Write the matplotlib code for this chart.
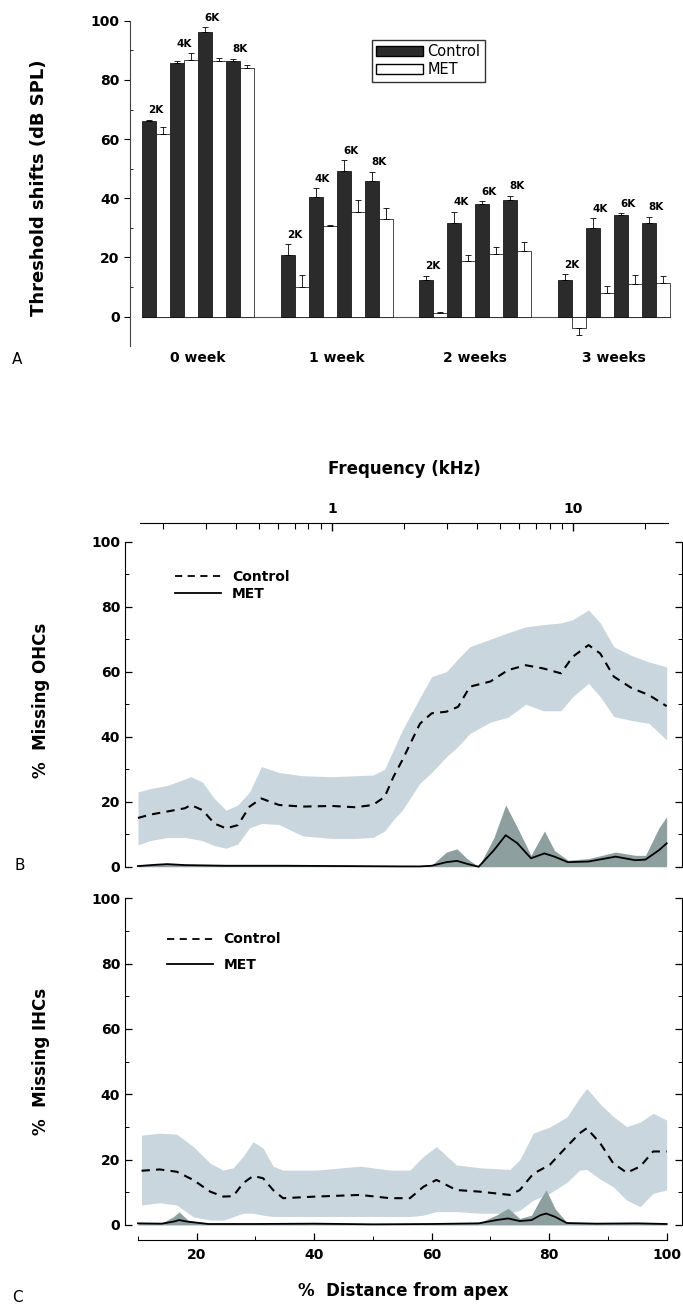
import matplotlib

matplotlib.use("Agg")
import matplotlib.pyplot as plt
from matplotlib.lines import Line2D
from matplotlib.patches import Patch
from matplotlib.ticker import MultipleLocator, NullFormatter, FixedLocator

# ---- panel A: threshold shifts (dB SPL) ----
WEEKS = ["0 week", "1 week", "2 weeks", "3 weeks"]
FREQS = ["2K", "4K", "6K", "8K"]
CONTROL = [[66.0, 85.6, 96.3, 86.4],
           [20.7, 40.5, 49.3, 45.8],
           [12.4, 31.8, 38.1, 39.3],
           [12.4, 29.9, 34.4, 31.5]]
CONTROL_ERR = [[0.5, 0.8, 1.5, 0.8],
               [3.8, 2.9, 3.5, 3.2],
               [1.5, 3.7, 1.0, 1.5],
               [2.0, 3.3, 0.5, 2.3]]
MET = [[61.6, 86.7, 86.5, 84.0],
       [10.1, 30.6, 35.5, 32.9],
       [1.1, 18.9, 21.2, 22.3],
       [-3.9, 7.9, 10.9, 11.3]]
MET_ERR = [[2.5, 2.3, 0.8, 1.2],
           [3.9, 0.5, 3.9, 3.7],
           [0.5, 1.9, 2.4, 3.0],
           [2.3, 2.5, 3.1, 2.4]]

# ---- panel B: % missing OHCs vs % distance from apex ----
OHC_CTRL_X = [10, 12, 15, 18, 19, 21, 23, 25, 27, 29, 31, 34, 38, 43, 47, 50,
              52, 53.5, 55, 58, 60, 62.5, 64.5, 66.5, 70, 73, 76, 79, 82, 84,
              86.7, 88.7, 91, 94, 97, 100]
OHC_CTRL = [15, 16, 17, 18, 19, 17.4, 13.3, 11.8, 12.8, 18.5, 21, 19, 18.5,
            18.7, 18.3, 19, 21.5, 27.7, 32.8, 44, 47.2, 47.7, 49.2, 55.4, 57,
            60.5, 62, 61, 59.5, 64.6, 68.2, 65.6, 58.5, 55, 52.8, 49.4]
OHC_CTRL_HI = [23, 24, 25, 27, 27.7, 26, 21, 17.4, 19, 23, 30.8, 29, 28, 27.7,
               28, 28.2, 30, 36, 42, 52, 58.5, 60, 64, 67.7, 70, 72, 73.8,
               74.5, 75, 76, 79, 75, 67.7, 65, 63, 61.5]
OHC_CTRL_LO = [6.7, 8, 9, 9, 8.7, 8, 6.5, 5.7, 7, 12, 13.3, 13, 9.5, 8.7, 8.7,
               9, 11, 14.5, 17.4, 25.7, 29, 33.8, 37, 41, 44.5, 46, 50, 48, 48,
               52.3, 56.4, 52.3, 46.2, 45, 44.1, 39]
OHC_MET_X = [10, 13, 15, 18, 25, 35, 45, 55, 58, 60, 62.5, 64.3, 66, 68, 70.6,
             72.6, 74.6, 76.9, 79.2, 80.9, 83.2, 86.7, 91.3, 94.7, 96.4, 98.7,
             100]
OHC_MET = [0.2, 0.6, 0.8, 0.5, 0.3, 0.3, 0.2, 0.1, 0.1, 0.3, 1.4, 1.8, 0.9,
           0.0, 5.1, 9.7, 7.2, 2.6, 4.1, 3.1, 1.4, 1.6, 3.1, 2.0, 2.2, 5.1, 7.2]
OHC_MET_HI = [0.3, 0.8, 1.0, 0.6, 0.4, 0.4, 0.3, 0.2, 0.2, 0.5, 4.5, 5.5, 2.5,
              0.0, 9, 19, 12, 3.5, 11, 5, 2.0, 2.5, 4.5, 3.5, 3.5, 12, 15.4]

# ---- panel C: % missing IHCs ----
IHC_CTRL_X = [10.6, 13.7, 16.6, 19.4, 22.3, 24.5, 26.2, 27.9, 29.6, 31.3, 33,
              34.7, 40.4, 47.8, 52.9, 56.3, 58.6, 60.8, 64.2, 68.2, 73.3, 75,
              77.3, 80.1, 83, 85.2, 86.4, 88.7, 90.9, 93.2, 95.5, 97.7, 100]
IHC_CTRL = [16.6, 17.0, 16.3, 13.8, 10.2, 8.7, 8.8, 12.8, 15.0, 14.3, 10.7,
            8.2, 8.7, 9.2, 8.2, 8.2, 11.7, 13.8, 10.7, 10.2, 9.2, 10.7, 15.7,
            18.4, 24, 28.1, 29.6, 25, 18.9, 16.0, 17.9, 22.5, 22.5]
IHC_CTRL_HI = [27.5, 28.1, 27.8, 24, 18.9, 16.8, 17.5, 21, 25.5, 23.5, 18,
               16.8, 16.8, 18, 16.8, 16.8, 21, 24, 18.4, 17.5, 17, 20, 28.1,
               30, 33, 39, 41.8, 37, 33.2, 30.1, 31.5, 34.2, 32.1]
IHC_CTRL_LO = [6.1, 6.8, 6.1, 2.5, 1.5, 1.5, 2.5, 3.6, 3.6, 3.0, 2.6, 2.6, 2.6,
               2.6, 2.6, 2.6, 3.0, 4.1, 4.1, 3.6, 3.6, 4.5, 7.6, 9.7, 13,
               16.8, 17, 14, 11.7, 7.6, 5.6, 9.7, 10.7]
IHC_MET_X = [10, 14, 16, 17, 18.5, 22, 30, 40, 50, 60, 68, 71, 73, 75, 77,
             78.5, 79.5, 81, 83, 88, 95, 100]
IHC_MET = [0.5, 0.4, 1.0, 1.5, 1.0, 0.3, 0.3, 0.4, 0.2, 0.3, 0.5, 1.5, 2.0,
           1.2, 1.5, 3.0, 3.5, 2.5, 0.6, 0.4, 0.5, 0.3]
IHC_MET_HI = [0.6, 0.5, 2.5, 4.0, 1.5, 0.4, 0.4, 0.5, 0.3, 0.4, 0.6, 3.0, 5.1,
              2.0, 3.0, 8.0, 10.7, 5.0, 0.8, 0.5, 0.6, 0.4]

BAR_DARK = "#2b2b2b"
BAND_LIGHT = "#cad6de"
BAND_DARK = "#8e9fa0"
GROUP_STEP = 9.9

W, H = 683, 1312
fig = plt.figure(figsize=(W / 100, H / 100), dpi=100)
plt.rcParams["font.family"] = "DejaVu Sans"


def fig_box(left_px, right_px, top_px, bottom_px):
    return [left_px / W, 1 - bottom_px / H, (right_px - left_px) / W,
            (bottom_px - top_px) / H]


# ================= panel A =================
ax = fig.add_axes(fig_box(130, 676, 20.7, 346.3))
ax.set_xlim(-12 / 14, (676 - 142) / 14)
ax.set_ylim(-10, 100)
for g in range(len(WEEKS)):
    base = g * GROUP_STEP
    cx = [base + 2 * f + 0.5 for f in range(len(FREQS))]
    mx = [base + 2 * f + 1.5 for f in range(len(FREQS))]
    ax.bar(cx, CONTROL[g], width=1.0, color=BAR_DARK, edgecolor="black",
           linewidth=0.5, zorder=2)
    ax.bar(mx, MET[g], width=1.0, color="white", edgecolor="black",
           linewidth=0.5, zorder=2)
    c_lo = [0 if v >= 0 else e for v, e in zip(CONTROL[g], CONTROL_ERR[g])]
    c_hi = [e if v >= 0 else 0 for v, e in zip(CONTROL[g], CONTROL_ERR[g])]
    m_lo = [0 if v >= 0 else e for v, e in zip(MET[g], MET_ERR[g])]
    m_hi = [e if v >= 0 else 0 for v, e in zip(MET[g], MET_ERR[g])]
    ax.errorbar(cx, CONTROL[g], yerr=[c_lo, c_hi], fmt="none", ecolor="black",
                elinewidth=0.6, capsize=2, capthick=0.6, zorder=3)
    ax.errorbar(mx, MET[g], yerr=[m_lo, m_hi], fmt="none", ecolor="black",
                elinewidth=0.6, capsize=2, capthick=0.6, zorder=3)
    for f, lab in enumerate(FREQS):
        top = max(CONTROL[g][f] + CONTROL_ERR[g][f], MET[g][f] + MET_ERR[g][f])
        ax.text(base + 2 * f + 1, top + 1.5, lab, ha="center", va="bottom",
                fontsize=7.5, fontweight="bold")
    ax.text(base + 4, -14, WEEKS[g], ha="center", va="center", fontsize=10,
            fontweight="bold", clip_on=False)

x0, x1 = ax.get_xlim()
end = (len(WEEKS) - 1) * GROUP_STEP + 2 * len(FREQS)
ax.axhline(0, xmin=(0 - x0) / (x1 - x0), xmax=(end - x0) / (x1 - x0),
           color="#555555", linewidth=0.8, zorder=1)

for side in ["top", "right", "bottom"]:
    ax.spines[side].set_visible(False)
ax.spines["left"].set_color("#444444")
ax.set_xticks([])
ax.set_yticks([0, 20, 40, 60, 80, 100])
ax.yaxis.set_minor_locator(FixedLocator([10, 30, 50, 70, 90]))
ax.tick_params(axis="y", which="major", direction="out", length=4, width=0.8,
               labelsize=10)
ax.tick_params(axis="y", which="minor", direction="in", length=2, width=0.6)
for t in ax.get_yticklabels():
    t.set_fontweight("bold")
ax.set_ylabel("Threshold shifts (dB SPL)", fontsize=13, fontweight="bold")
ax.yaxis.set_label_coords(-0.150, 0.486)
leg = ax.legend(handles=[Patch(facecolor=BAR_DARK, edgecolor="black", label="Control"),
                         Patch(facecolor="white", edgecolor="black", label="MET")],
                loc="upper left", bbox_to_anchor=(0.443, 0.941), fontsize=10.5,
                frameon=True, fancybox=False, handlelength=3.2,
                handletextpad=0.3, borderpad=0.3, labelspacing=0.2,
                borderaxespad=0)
leg.get_frame().set_edgecolor("black")
leg.get_frame().set_linewidth(1.0)


# ============ panels B and C: shared styling ============
def style_cell_axes(a, ylabel, bottom_axis):
    a.set_xlim(7.79, 102.56)
    a.spines["top"].set_visible(False)
    a.spines["left"].set_bounds(0, 100)
    a.spines["right"].set_bounds(0, 100)
    a.set_yticks([0, 20, 40, 60, 80, 100])
    a.yaxis.set_minor_locator(MultipleLocator(10))
    a.tick_params(axis="y", which="both", direction="in", left=True,
                  right=True, labelright=False, labelsize=10)
    a.tick_params(axis="y", which="major", length=5, width=0.9)
    a.tick_params(axis="y", which="minor", length=3, width=0.7)
    for t in a.get_yticklabels():
        t.set_fontweight("bold")
    if bottom_axis:
        a.spines["bottom"].set_bounds(10, 100)
        a.set_xticks([20, 40, 60, 80, 100])
        a.xaxis.set_minor_locator(FixedLocator([10, 30, 50, 70, 90]))
        a.tick_params(axis="x", which="both", direction="in", labelsize=10)
        a.tick_params(axis="x", which="major", length=5, width=0.9, pad=6)
        a.tick_params(axis="x", which="minor", length=3, width=0.7)
        for t in a.get_xticklabels():
            t.set_fontweight("bold")
    else:
        a.spines["bottom"].set_visible(False)
        a.set_xticks([])
    a.set_ylabel(ylabel, fontsize=12, fontweight="bold")
    a.set_facecolor("none")


def cell_legend(a, anchor, spacing):
    handles = [Line2D([], [], color="black", lw=1.3, linestyle=(0, (4, 3))),
               Line2D([], [], color="black", lw=1.3)]
    a.legend(handles, ["Control", "MET"], loc="upper left",
             bbox_to_anchor=anchor, frameon=False, borderaxespad=0,
             borderpad=0, handlelength=3.3, handletextpad=0.8,
             labelspacing=spacing, prop={"size": 10, "weight": "bold"})


# ================= panel B =================
axb = fig.add_axes(fig_box(125, 681.7, 541.7, 871.6))
axb.set_ylim(-1.5, 100)
axb.fill_between(OHC_CTRL_X, OHC_CTRL_LO, OHC_CTRL_HI, color=BAND_LIGHT,
                 linewidth=0, zorder=1)
axb.fill_between(OHC_MET_X, 0, OHC_MET_HI, color=BAND_DARK, linewidth=0,
                 zorder=2)
axb.plot(OHC_CTRL_X, OHC_CTRL, color="black", lw=1.5, linestyle=(0, (4, 3)),
         zorder=3)
axb.plot(OHC_MET_X, OHC_MET, color="black", lw=1.3, zorder=3)
style_cell_axes(axb, "%  Missing OHCs", bottom_axis=False)
axb.yaxis.set_label_coords(-0.135, 0.52)
cell_legend(axb, (0.09, 0.915), 0.2)

# top frequency axis (line sits at y = 523 px)
axf = fig.add_axes(fig_box(140, 668, 523, 553))
axf.set_xscale("log")
axf.set_xlim(0.16, 24.8)
for side in ["left", "right", "bottom"]:
    axf.spines[side].set_visible(False)
axf.patch.set_visible(False)
axf.set_yticks([])
axf.xaxis.tick_top()
axf.xaxis.set_label_position("top")
axf.set_xticks([1, 10], ["1", "10"])
axf.xaxis.set_minor_formatter(NullFormatter())
axf.tick_params(axis="x", which="both", direction="in", labelsize=10, pad=5)
axf.tick_params(axis="x", which="major", length=6, width=1.0)
axf.tick_params(axis="x", which="minor", length=4, width=0.8)
for t in axf.get_xticklabels():
    t.set_fontweight("bold")
axf.set_xlabel("Frequency (kHz)", fontsize=12, fontweight="bold", labelpad=20)

# ================= panel C =================
axc = fig.add_axes(fig_box(125, 681.7, 898.3, 1240))
axc.set_ylim(-4.6, 100)
axc.fill_between(IHC_CTRL_X, IHC_CTRL_LO, IHC_CTRL_HI, color=BAND_LIGHT,
                 linewidth=0, zorder=1)
axc.fill_between(IHC_MET_X, 0, IHC_MET_HI, color=BAND_DARK, linewidth=0,
                 zorder=2)
axc.plot(IHC_CTRL_X, IHC_CTRL, color="black", lw=1.5, linestyle=(0, (4, 3)),
         zorder=3)
axc.plot(IHC_MET_X, IHC_MET, color="black", lw=1.3, zorder=3)
style_cell_axes(axc, "%  Missing IHCs", bottom_axis=True)
axc.yaxis.set_label_coords(-0.135, 0.522)
axc.set_xlabel("%  Distance from apex", fontsize=12, fontweight="bold",
               labelpad=14)
cell_legend(axc, (0.075, 0.9), 0.85)

# panel letters
fig.text(12 / W, 1 - 360 / H, "A", fontsize=11, va="center")
fig.text(15 / W, 1 - 865 / H, "B", fontsize=11, va="center")
fig.text(12 / W, 1 - 1297 / H, "C", fontsize=11, va="center")

fig.savefig("out.png", dpi=100)
